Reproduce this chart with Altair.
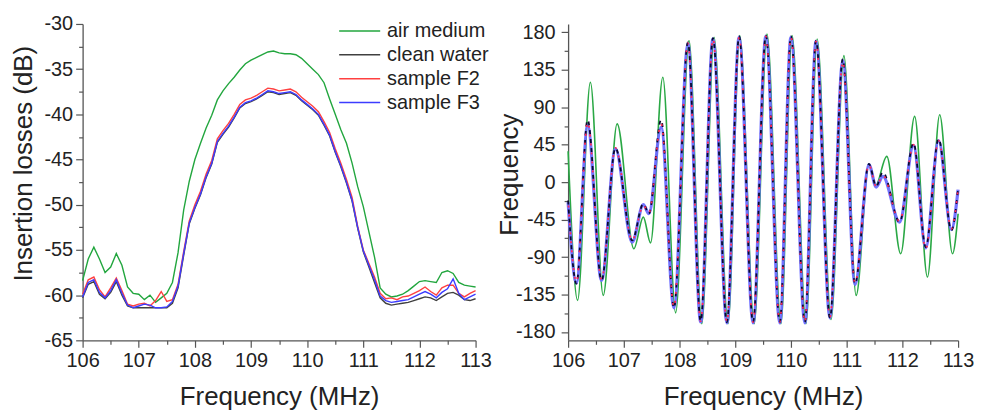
import altair as alt
import pandas as pd

FONT = "Liberation Sans"

# ---------------- left panel: insertion losses ----------------
freq = [round(106 + 0.1 * i, 1) for i in range(71)]

air_il = [-58.4, -56.0, -54.7, -56.0, -57.5, -56.9, -55.4, -56.7, -59.1, -59.8,
          -59.9, -60.5, -60.0, -60.8, -60.3, -59.8, -58.6, -55.3, -50.6, -47.4,
          -45.0, -43.2, -41.5, -40.1, -38.4, -37.4, -36.6, -35.9, -35.1, -34.4,
          -34.0, -33.7, -33.4, -33.1, -33.0, -33.2, -33.3, -33.3, -33.4, -33.8,
          -34.4, -35.0, -35.6, -36.5, -38.3, -40.0, -41.7, -43.2, -45.4, -48.0,
          -50.2, -53.0, -55.8, -59.2, -59.9, -60.2, -60.1, -59.9, -59.5, -59.0,
          -58.5, -58.4, -58.5, -58.6, -57.5, -57.3, -57.6, -58.6, -58.9, -59.0,
          -59.1]
water_il = [-60.3, -58.8, -58.5, -59.9, -60.4, -59.7, -58.5, -60.0, -61.2, -61.4,
            -61.4, -61.4, -61.4, -61.4, -61.4, -61.4, -60.9, -59.2, -55.6, -52.1,
            -50.4, -48.9, -47.0, -45.5, -43.1, -42.2, -41.4, -40.4, -39.3, -38.8,
            -38.6, -38.3, -37.9, -37.5, -37.6, -37.8, -37.7, -37.6, -37.9, -38.5,
            -39.0, -39.5, -40.1, -41.2, -42.4, -44.2, -45.8, -47.6, -49.6, -52.6,
            -55.2, -56.9, -58.6, -60.3, -60.9, -61.1, -61.0, -60.9, -60.8, -60.6,
            -60.4, -60.2, -60.3, -60.6, -60.2, -59.8, -59.7, -60.0, -60.5, -60.6,
            -60.4]
f2_il = [-59.9, -58.3, -58.0, -59.4, -60.2, -59.2, -58.1, -59.5, -61.0, -61.2,
         -61.0, -60.9, -61.2, -60.6, -59.6, -60.7, -60.5, -58.8, -55.2, -51.8,
         -50.0, -48.5, -46.6, -45.1, -42.7, -41.8, -41.0, -40.0, -38.9, -38.4,
         -38.2, -37.9, -37.5, -37.1, -37.2, -37.4, -37.3, -37.2, -37.5, -38.1,
         -38.6, -39.1, -39.7, -40.8, -42.0, -43.8, -45.4, -47.2, -49.2, -52.4,
         -55.0, -56.5, -58.0, -59.8, -60.4, -60.3, -60.5, -60.2, -60.1, -59.8,
         -59.5, -59.1, -59.6, -60.0, -59.2, -58.9, -58.9, -59.8, -60.2, -59.8,
         -59.5]
f3_il = [-60.2, -58.6, -58.3, -59.7, -60.3, -59.5, -58.3, -59.8, -61.1, -61.4,
         -61.2, -61.0, -61.1, -61.4, -61.4, -61.3, -60.7, -59.0, -55.4, -52.0,
         -50.3, -48.8, -46.9, -45.4, -43.0, -42.1, -41.3, -40.3, -39.2, -38.7,
         -38.5, -38.2, -37.8, -37.4, -37.5, -37.7, -37.6, -37.5, -37.8, -38.4,
         -38.9, -39.4, -40.0, -41.1, -42.3, -44.1, -45.7, -47.5, -49.5, -52.5,
         -55.1, -56.7, -58.3, -60.1, -60.6, -60.8, -60.7, -60.6, -60.5, -60.2,
         -59.9, -59.6, -59.9, -60.3, -59.7, -59.3, -58.2, -59.8, -60.5, -60.2,
         -59.9]

series_names = ["air medium", "clean water", "sample F2", "sample F3"]
series_colors = ["#22a63e", "#404040", "#ff4040", "#3c3cff"]

rows = []
for name, vals in zip(series_names, [air_il, water_il, f2_il, f3_il]):
    for f, v in zip(freq, vals):
        rows.append({"freq": f, "il": v, "series": name})
il_df = pd.DataFrame(rows)

# ---------------- right panel: phase ----------------
water_phase_f = [106.00, 106.15, 106.35, 106.60, 106.85, 107.15, 107.35, 107.45, 107.67,
                 107.90, 108.15, 108.38, 108.60, 108.85, 109.07, 109.32, 109.55, 109.80,
                 110.00, 110.25, 110.45, 110.70, 110.93, 111.15, 111.40, 111.53, 111.65,
                 111.95, 112.20, 112.42, 112.65, 112.88, 113.00]
water_phase = [-22, -122, 75, -118, 41, -70, -26, -38, 75, -151, 168, -167, 173, -168,
               175, -168, 176, -168, 175, -168, 170, -163, 148, -122, 22, -5, 12, -48,
               47, -78, 52, -58, -8]
f2_phase = [-22, -120, 72, -117, 41, -70, -28, -37, 70, -150, 167, -167, 172, -168,
            174, -168, 175, -168, 174, -168, 169, -162, 145, -121, 21, -5, 8, -47,
            45, -80, 50, -56, -8]
f3_phase = [-24, -121, 68, -118, 40, -72, -27, -38, 66, -151, 166, -168, 172, -169,
            174, -169, 175, -169, 174, -169, 169, -163, 146, -123, 21, -6, 7, -48,
            44, -79, 50, -57, -9]
air_phase_f = [106.00, 106.17, 106.40, 106.63, 106.88, 107.18, 107.35, 107.48, 107.70,
               107.93, 108.17, 108.40, 108.62, 108.87, 109.08, 109.34, 109.57, 109.82,
               110.02, 110.27, 110.47, 110.72, 110.95, 111.17, 111.40, 111.52, 111.72,
               111.97, 112.22, 112.45, 112.67, 112.90, 113.00]
air_phase = [37, -142, 120, -136, 70, -80, -42, -73, 126, -157, 170, -170, 174, -170,
             176, -170, 178, -170, 176, -170, 172, -165, 152, -136, 22, -4, 31, -86,
             79, -114, 81, -86, -38]

x_ticks = [106 + 0.5 * i for i in range(15)]
il_ticks = [-65 + 2.5 * i for i in range(15)]
ph_ticks = [-180 + 22.5 * i for i in range(17)]


def x_axis():
    return alt.Axis(
        title="Frequency (MHz)", values=x_ticks, labelOverlap=False, labelFlush=False,
        labelExpr="datum.value % 1 == 0 ? toString(datum.value) : ''",
        tickSize={"condition": {"test": "datum.value % 1 != 0", "value": 4}, "value": 7},
        labelPadding=3, titlePadding=14,
    )


x_il = alt.X("freq:Q", scale=alt.Scale(domain=[106, 113], nice=False), axis=x_axis())
y_il = alt.Y(
    "il:Q", scale=alt.Scale(domain=[-65, -30], nice=False),
    axis=alt.Axis(
        title="Insertion losses (dB)", values=il_ticks, labelOverlap=False,
        labelExpr="datum.value % 5 == 0 ? toString(datum.value) : ''",
        tickSize={"condition": {"test": "datum.value % 5 != 0", "value": 4}, "value": 7},
        labelPadding=3, titlePadding=7, titleY=140,
    ),
)

left = alt.Chart(il_df).mark_line(strokeWidth=1.4).encode(
    x=x_il,
    y=y_il,
    color=alt.Color(
        "series:N",
        scale=alt.Scale(domain=series_names, range=series_colors),
        sort=series_names,
        legend=alt.Legend(
            title=None, orient="none", legendX=257, legendY=-5,
            symbolType="stroke", symbolSize=1700, symbolStrokeWidth=1.6,
            labelFontSize=20, labelFont=FONT, labelColor="#222",
            rowPadding=0, clipHeight=24, labelOffset=6, padding=0,
        ),
    ),
).properties(width=395, height=318)

x_ph = alt.X("freq:Q", scale=alt.Scale(domain=[106, 113], nice=False), axis=x_axis())
y_ph = alt.Y(
    "phase:Q", scale=alt.Scale(domain=[-190, 190], nice=False),
    axis=alt.Axis(
        title="Frequency", values=ph_ticks, labelOverlap=False,
        labelExpr="datum.value % 45 == 0 ? toString(datum.value) : ''",
        tickSize={"condition": {"test": "datum.value % 45 != 0", "value": 4}, "value": 7},
        labelPadding=6, titlePadding=-7, titleY=151,
    ),
)


def phase_layer(fs, vals, color, width, dash=None, offset=None, opacity=1.0):
    df = pd.DataFrame({"freq": fs, "phase": vals})
    kw = dict(color=color, strokeWidth=width, interpolate="monotone", opacity=opacity)
    if dash is not None:
        kw["strokeDash"] = dash
    if offset is not None:
        kw["strokeDashOffset"] = offset
    return alt.Chart(df).mark_line(**kw).encode(x=x_ph, y=y_ph)


right = alt.layer(
    phase_layer(air_phase_f, air_phase, "#2aa845", 1.6),
    phase_layer(water_phase_f, f3_phase, "#6a6aff", 3.2, opacity=0.95),
    phase_layer(water_phase_f, water_phase, "#0a0a30", 1.8, dash=[4, 5]),
    phase_layer(water_phase_f, f2_phase, "#ff2a55", 1.8, dash=[2, 7], offset=-5),
).properties(width=392, height=318)

chart = (
    alt.hconcat(left, right, spacing=4)
    .properties(padding={"left": 3, "top": 5, "right": 0, "bottom": 0})
    .configure_view(stroke=None)
    .configure_axis(
        labelFont=FONT, titleFont=FONT, labelFontSize=20, titleFontSize=26,
        titleFontWeight="normal", labelColor="#222", titleColor="#222",
        domainColor="#555", tickColor="#555", domainWidth=1.3, tickWidth=1.2,
        grid=False,
    )
)

chart.save("out.html", embed_options={"renderer": "svg", "actions": False})
